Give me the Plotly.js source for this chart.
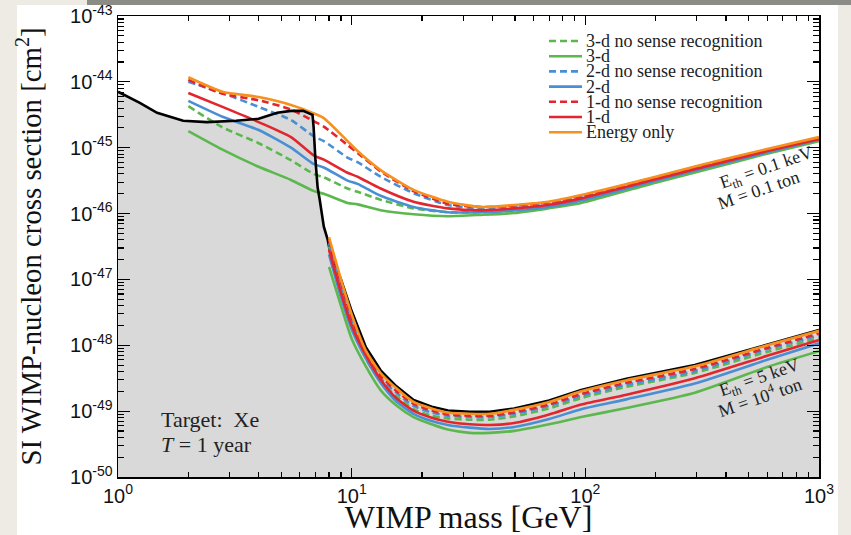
<!DOCTYPE html>
<html><head><meta charset="utf-8">
<script src="https://cdn.plot.ly/plotly-3.0.1.min.js"></script>
<style>html,body{margin:0;padding:0;background:#eeebe5;overflow:hidden}#chart{width:851px;height:535px}</style>
</head><body><div id="chart"></div>
<script>
// ---------- data (WIMP mass in GeV, cross-section in cm^2) ----------
const upperMass = [2.0, 2.8, 4.0, 5.5, 6.9, 7.6, 9.6, 10.6, 13.3, 18.4, 25.8, 35.8, 49.6, 69.4, 96, 200, 315, 600, 1000];
const upperEnergy = [1.175e-44, 7.08e-45, 5.89e-45, 4.47e-45, 3.31e-45, 2.82e-45, 1.26e-45, 8.91e-46, 4.57e-46, 2.29e-46, 1.51e-46, 1.26e-46, 1.35e-46, 1.51e-46, 1.91e-46, 3.63e-46, 5.50e-46, 9.55e-46, 1.45e-45];
const upper1dNS = [1.07e-44, 6.61e-45, 5.25e-45, 3.80e-45, 2.51e-45, 2.09e-45, 1.10e-45, 8.32e-46, 4.37e-46, 2.19e-46, 1.41e-46, 1.26e-46, 1.32e-46, 1.48e-46, 1.86e-46, 3.55e-46, 5.37e-46, 9.33e-46, 1.41e-45];
const upper1d = [6.76e-45, 4.17e-45, 2.45e-45, 1.45e-45, 7.59e-46, 6.61e-46, 4.17e-46, 3.63e-46, 2.40e-46, 1.51e-46, 1.20e-46, 1.12e-46, 1.20e-46, 1.35e-46, 1.70e-46, 3.31e-46, 5.01e-46, 8.91e-46, 1.35e-45];
const upper2dNS = [1.00e-44, 6.76e-45, 4.17e-45, 2.63e-45, 1.48e-45, 1.26e-45, 7.08e-46, 6.03e-46, 3.63e-46, 2.04e-46, 1.35e-46, 1.20e-46, 1.26e-46, 1.41e-46, 1.78e-46, 3.47e-46, 5.25e-46, 9.12e-46, 1.38e-45];
const upper2d = [5.13e-45, 2.95e-45, 1.86e-45, 1.00e-45, 5.62e-46, 5.01e-46, 3.16e-46, 2.82e-46, 1.86e-46, 1.26e-46, 1.05e-46, 1.05e-46, 1.12e-46, 1.26e-46, 1.58e-46, 3.16e-46, 4.79e-46, 8.51e-46, 1.32e-45];
const upper3dNS = [4.27e-45, 2.04e-45, 1.17e-45, 6.46e-46, 3.98e-46, 3.55e-46, 2.40e-46, 2.14e-46, 1.62e-46, 1.20e-46, 1.05e-46, 1.05e-46, 1.10e-46, 1.23e-46, 1.58e-46, 3.31e-46, 5.01e-46, 8.91e-46, 1.35e-45];
const upper3d = [1.78e-45, 9.33e-46, 5.13e-46, 3.24e-46, 2.19e-46, 2.00e-46, 1.45e-46, 1.38e-46, 1.12e-46, 9.77e-47, 9.12e-47, 9.55e-47, 1.02e-46, 1.20e-46, 1.45e-46, 2.95e-46, 4.47e-46, 8.13e-46, 1.26e-45];

const lowerMass = [8.0, 9.0, 10, 11.5, 13.3, 15.5, 18.4, 22, 25.8, 32, 39, 49.6, 70, 96, 150, 294, 600, 1000];
const lowerEnergy = [4.37e-47, 1.00e-47, 2.95e-48, 8.32e-49, 3.80e-49, 2.24e-49, 1.38e-49, 1.10e-49, 9.55e-50, 9.12e-50, 9.12e-50, 1.05e-49, 1.38e-49, 2.00e-49, 2.95e-49, 4.79e-49, 1.00e-48, 1.66e-48];
const lower1dNS = [3.98e-47, 8.91e-48, 2.63e-48, 7.59e-49, 3.47e-49, 2.04e-49, 1.29e-49, 1.02e-49, 8.91e-50, 8.51e-50, 8.51e-50, 9.55e-50, 1.26e-49, 1.82e-49, 2.69e-49, 4.37e-49, 9.12e-49, 1.51e-48];
const lower1d = [2.82e-47, 6.31e-48, 2.00e-48, 7.08e-49, 3.02e-49, 1.58e-49, 1.02e-49, 7.94e-50, 6.92e-50, 6.31e-50, 6.17e-50, 6.61e-50, 8.91e-50, 1.26e-49, 1.78e-49, 3.16e-49, 6.92e-49, 1.20e-48];
const lower2dNS = [3.55e-47, 7.94e-48, 2.40e-48, 7.08e-49, 3.16e-49, 1.91e-49, 1.20e-49, 9.55e-50, 8.51e-50, 8.13e-50, 8.13e-50, 9.12e-50, 1.20e-49, 1.70e-49, 2.51e-49, 4.07e-49, 8.71e-49, 1.41e-48];
const lower2d = [2.40e-47, 5.37e-48, 1.74e-48, 6.31e-49, 2.69e-49, 1.41e-49, 9.12e-50, 7.08e-50, 6.17e-50, 5.62e-50, 5.37e-50, 5.75e-50, 7.59e-50, 1.07e-49, 1.51e-49, 2.63e-49, 6.03e-49, 1.07e-48];
const lower3dNS = [3.16e-47, 7.08e-48, 2.09e-48, 6.31e-49, 2.82e-49, 1.70e-49, 1.07e-49, 8.51e-50, 7.76e-50, 7.41e-50, 7.41e-50, 8.32e-50, 1.10e-49, 1.58e-49, 2.34e-49, 3.80e-49, 7.94e-49, 1.29e-48];
const lower3d = [1.55e-47, 3.98e-48, 1.26e-48, 4.79e-49, 2.09e-49, 1.23e-49, 8.13e-50, 6.31e-50, 5.25e-50, 4.68e-50, 4.68e-50, 5.01e-50, 6.31e-50, 8.13e-50, 1.12e-49, 1.91e-49, 4.68e-49, 8.13e-49];

const boundMass = [1, 1.24, 1.47, 1.9, 2.4, 3.2, 4.0, 4.8, 5.5, 6.2, 6.8, 6.87, 7.0, 7.15, 7.3, 7.6, 7.9, 8.1, 9.0, 10, 11.5, 13.3, 15.5, 18.4, 22, 25.8, 32, 39, 49.6, 70, 96, 150, 294, 600, 1000];
const boundSigma = [7.08e-45, 4.79e-45, 3.39e-45, 2.57e-45, 2.45e-45, 2.57e-45, 2.75e-45, 3.39e-45, 3.63e-45, 3.63e-45, 3.16e-45, 2.09e-45, 6.46e-46, 2.51e-46, 1.62e-46, 6.31e-47, 3.98e-47, 2.51e-47, 1.00e-47, 3.31e-48, 9.33e-49, 4.17e-49, 2.40e-49, 1.48e-49, 1.17e-49, 1.02e-49, 9.77e-50, 9.77e-50, 1.10e-49, 1.45e-49, 2.09e-49, 3.09e-49, 5.01e-49, 1.02e-48, 1.70e-48];

const seriesNames = ['3-d no sense recognition', '3-d', '2-d no sense recognition', '2-d', '1-d no sense recognition', '1-d', 'Energy only'];
const upperSeries = [upper3dNS, upper3d, upper2dNS, upper2d, upper1dNS, upper1d, upperEnergy];
const lowerSeries = [lower3dNS, lower3d, lower2dNS, lower2d, lower1dNS, lower1d, lowerEnergy];

const xTickVals = [1, 10, 100, 1000];
const xTickText = ['10<sup>0</sup>', '10<sup>1</sup>', '10<sup>2</sup>', '10<sup>3</sup>'];
const yTickVals = [1e-50, 1e-49, 1e-48, 1e-47, 1e-46, 1e-45, 1e-44, 1e-43];
const yTickText = ['10<sup>-50</sup>', '10<sup>-49</sup>', '10<sup>-48</sup>', '10<sup>-47</sup>', '10<sup>-46</sup>', '10<sup>-45</sup>', '10<sup>-44</sup>', '10<sup>-43</sup>'];

// ---------- styles ----------
const colors = ['#5cb84e', '#5cb84e', '#4a8fd4', '#4a8fd4', '#e3252d', '#e3252d', '#f6901e'];
const dashes = ['7px,4px', 'solid', '7px,4px', 'solid', '7px,4px', 'solid', 'solid'];
const serif = 'Liberation Serif, Times New Roman, serif';
const sans = 'Liberation Sans, Arial, sans-serif';

const minorX = [];
[1, 10, 100].forEach(d => { for (let k = 2; k <= 9; k++) minorX.push(k * d); });
const minorY = [];
yTickVals.slice(0, -1).forEach(d => { for (let k = 2; k <= 9; k++) minorY.push(k * d); });

const traces = [];
traces.push({x: boundMass, y: boundSigma, mode: 'lines', fill: 'tozeroy', fillcolor: '#d9d9d9',
  line: {width: 0, color: 'rgba(0,0,0,0)'}, hoverinfo: 'skip', showlegend: false});
upperSeries.forEach((ys, i) => traces.push({x: upperMass, y: ys, mode: 'lines', name: seriesNames[i],
  line: {color: colors[i], width: 2.6, dash: dashes[i], shape: 'spline', smoothing: 0.6}, showlegend: false}));
traces.push({x: boundMass, y: boundSigma, mode: 'lines', line: {color: '#000', width: 2.6}, showlegend: false, name: 'bound'});
lowerSeries.forEach((ys, i) => traces.push({x: lowerMass, y: ys, mode: 'lines', name: seriesNames[i],
  line: {color: colors[i], width: 2.6, dash: dashes[i], shape: 'spline', smoothing: 0.6}, showlegend: false}));

// plot area in px: x 118..819, y 16..477
const PX = v => (v - 118) / 701, PY = v => (477 - v) / 461;

const shapes = [
  {type: 'rect', xref: 'paper', yref: 'paper', x0: PX(17), x1: PX(838), y0: PY(535), y1: PY(5), fillcolor: '#ffffff', line: {width: 0}, layer: 'below'},
  {type: 'rect', xref: 'paper', yref: 'paper', x0: PX(87), x1: PX(851), y0: PY(5), y1: PY(0), fillcolor: '#8c8c86', line: {width: 0}, layer: 'below'}
];
const annotations = [];
seriesNames.forEach((n, i) => {
  const yy = PY(41 + 15.2 * i);
  shapes.push({type: 'line', xref: 'paper', yref: 'paper', x0: PX(549), x1: PX(582), y0: yy, y1: yy,
    line: {color: colors[i], width: 2.6, dash: dashes[i]}});
  annotations.push({xref: 'paper', yref: 'paper', x: PX(584), y: yy, text: n, showarrow: false,
    xanchor: 'left', yanchor: 'middle', font: {family: serif, size: 18, color: '#222'}});
});
annotations.push(
  {x: Math.log10(1.5), y: -49.13, text: 'Target:  Xe', showarrow: false, xanchor: 'left', yanchor: 'middle', font: {family: serif, size: 22, color: '#222'}},
  {x: Math.log10(1.5), y: -49.5, text: '<i>T</i> = 1 year', showarrow: false, xanchor: 'left', yanchor: 'middle', font: {family: serif, size: 22, color: '#222'}},
  {x: 2.777, y: -45.31, text: 'E<sub>th</sub> = 0.1 keV', textangle: -19, showarrow: false, font: {family: serif, size: 18, color: '#222'}},
  {x: 2.743, y: -45.64, text: 'M = 0.1 ton', textangle: -19, showarrow: false, font: {family: serif, size: 18, color: '#222'}},
  {x: 2.747, y: -48.51, text: 'E<sub>th</sub> = 5 keV', textangle: -19, showarrow: false, font: {family: serif, size: 18, color: '#222'}},
  {x: 2.747, y: -48.77, text: 'M = 10<sup>4</sup> ton', textangle: -19, showarrow: false, font: {family: serif, size: 18, color: '#222'}}
);

const layout = {
  width: 851, height: 535,
  paper_bgcolor: '#eeebe5', plot_bgcolor: '#ffffff',
  margin: {l: 118, r: 32, t: 16, b: 58},
  showlegend: false,
  xaxis: {type: 'log', range: [0, 3], tickmode: 'array', tickvals: xTickVals, ticktext: xTickText,
    ticks: 'inside', ticklen: 9, tickwidth: 1.2, tickcolor: '#000', showgrid: false, zeroline: false,
    showline: true, linecolor: '#000', linewidth: 1.5, mirror: 'ticks', automargin: false,
    minor: {tickmode: 'array', tickvals: minorX, ticks: 'inside', ticklen: 5, tickwidth: 1.1, tickcolor: '#000', showgrid: false},
    tickfont: {family: sans, size: 20, color: '#111'},
    title: {text: 'WIMP mass [GeV]', font: {family: serif, size: 32, color: '#111'}, standoff: 6}},
  yaxis: {type: 'log', range: [-50, -43], tickmode: 'array', tickvals: yTickVals, ticktext: yTickText,
    ticks: 'inside', ticklen: 12, tickwidth: 1.2, tickcolor: '#000', showgrid: false, zeroline: false,
    showline: true, linecolor: '#000', linewidth: 1.5, mirror: 'ticks', automargin: false,
    minor: {tickmode: 'array', tickvals: minorY, ticks: 'inside', ticklen: 6, tickwidth: 1.1, tickcolor: '#000', showgrid: false},
    tickfont: {family: sans, size: 20, color: '#111'},
    title: {text: 'SI WIMP-nucleon cross section [cm<sup>2</sup>]', font: {family: serif, size: 28.8, color: '#111'}, standoff: 20}},
  shapes: shapes,
  annotations: annotations
};
Plotly.newPlot('chart', traces, layout, {displayModeBar: false, staticPlot: true});
</script>
</body></html>
